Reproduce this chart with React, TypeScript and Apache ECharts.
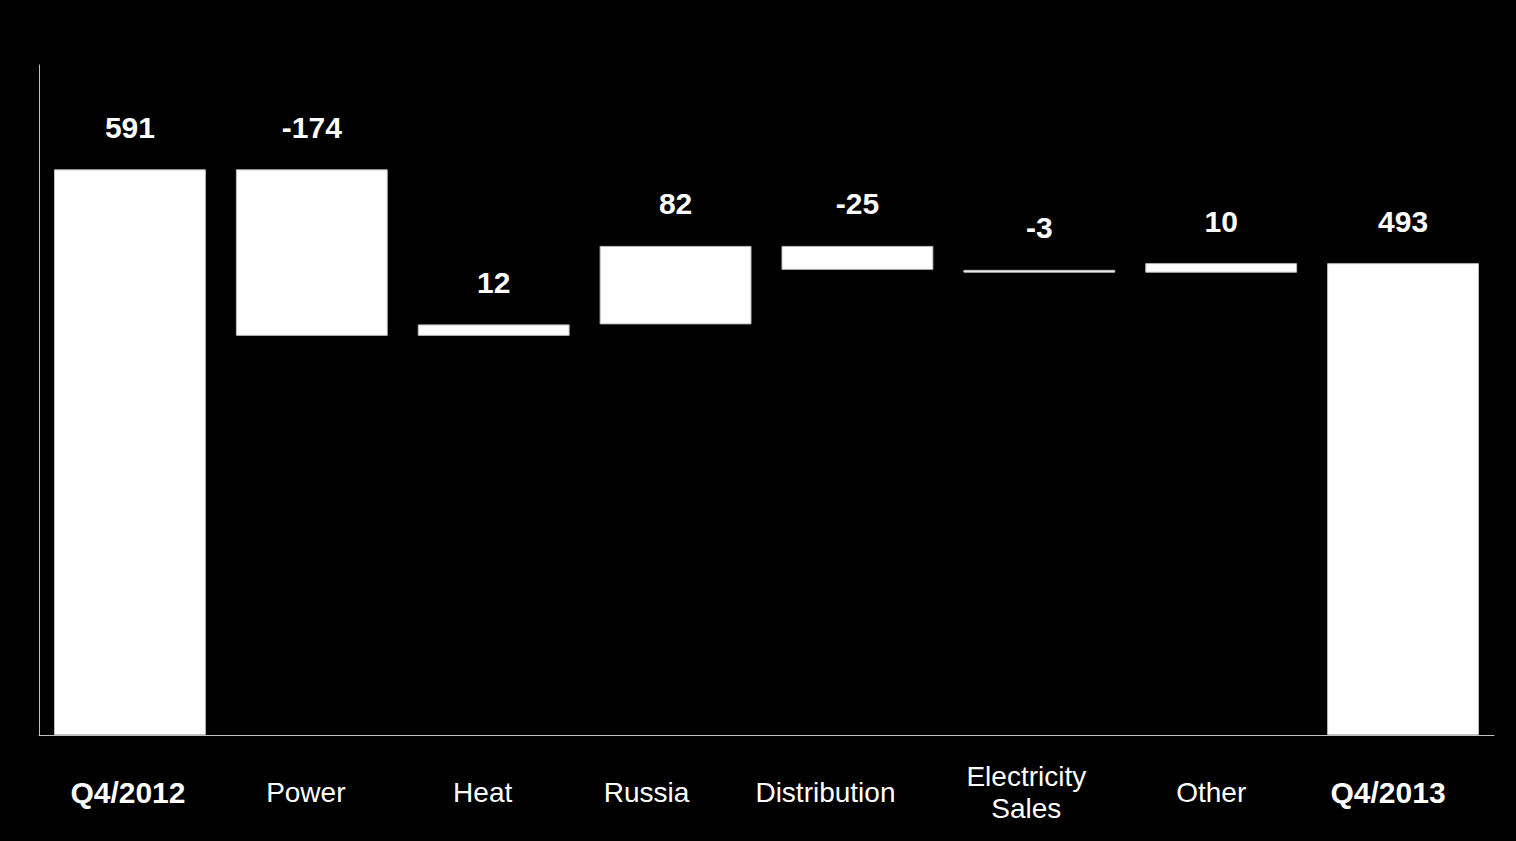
import React, { useEffect, useRef } from "react";
import * as echarts from "echarts";

const categories = ["Q4/2012", "Power", "Heat", "Russia", "Distribution", "Electricity\nSales", "Other", "Q4/2013"];
const values = [591, -174, 12, 82, -25, -3, 10, 493];
const isTotal = [true, false, false, false, false, false, false, true];

// styling: horizontal nudge of category labels (px, negative = left)
const labelNudge = [-2, -6, -11, -29, -32, -13, -10, -15];

export default function App() {
  const ref = useRef<HTMLDivElement>(null);
  useEffect(() => {
    if (!ref.current) return;
    const chart = echarts.init(ref.current, null, { renderer: "svg" });

    const base: number[] = [];
    const height: number[] = [];
    let running = 0;
    values.forEach((v, i) => {
      if (isTotal[i]) {
        base.push(0);
        height.push(v);
        running = v;
      } else {
        const next = running + v;
        base.push(Math.min(running, next));
        height.push(Math.abs(v));
        running = next;
      }
    });

    const rich: Record<string, any> = {};
    categories.forEach((c, i) => {
      const bold = isTotal[i];
      rich["c" + i] = {
        color: "#ffffff",
        fontFamily: "Liberation Sans, Arial, sans-serif",
        fontSize: bold ? 30 : 28,
        fontWeight: bold ? "bold" : "normal",
        lineHeight: 32,
        padding: labelNudge[i] < 0 ? [0, -2 * labelNudge[i], 0, 0] : [0, 0, 0, 2 * labelNudge[i]],
      };
    });

    chart.setOption({
      animation: false,
      backgroundColor: "#000000",
      grid: { left: 39, right: 22, top: 65, bottom: 106, containLabel: false },
      xAxis: {
        type: "category",
        data: categories,
        axisLine: { show: true, lineStyle: { color: "#bfbfbf", width: 1 } },
        axisTick: { show: false },
        axisLabel: {
          interval: 0,
          margin: 57,
          verticalAlign: "middle",
          formatter: (val: string, idx: number) =>
            val
              .split("\n")
              .map((line) => `{c${idx}|${line}}`)
              .join("\n"),
          rich,
        },
      },
      yAxis: {
        type: "value",
        min: 0,
        max: 700,
        axisLine: { show: true, lineStyle: { color: "#bfbfbf", width: 1 } },
        axisTick: { show: false },
        axisLabel: { show: false },
        splitLine: { show: false },
      },
      series: [
        {
          type: "bar",
          stack: "wf",
          data: base,
          itemStyle: { color: "transparent", borderColor: "transparent" },
          emphasis: { disabled: true },
          barCategoryGap: "16.5%",
        },
        {
          type: "bar",
          stack: "wf",
          data: height,
          barCategoryGap: "16.5%",
          itemStyle: { color: "#ffffff", borderColor: "#bdbdbd", borderWidth: 1 },
          label: {
            show: true,
            position: "top",
            distance: 27,
            color: "#ffffff",
            fontFamily: "Liberation Sans, Arial, sans-serif",
            fontSize: 30,
            fontWeight: "bold",
            formatter: (p: any) => String(values[p.dataIndex]),
          },
        },
      ],
    });
    return () => chart.dispose();
  }, []);

  return (
    <div
      ref={ref}
      style={{ position: "fixed", left: 0, top: 0, width: 1516, height: 841, background: "#000" }}
    />
  );
}
